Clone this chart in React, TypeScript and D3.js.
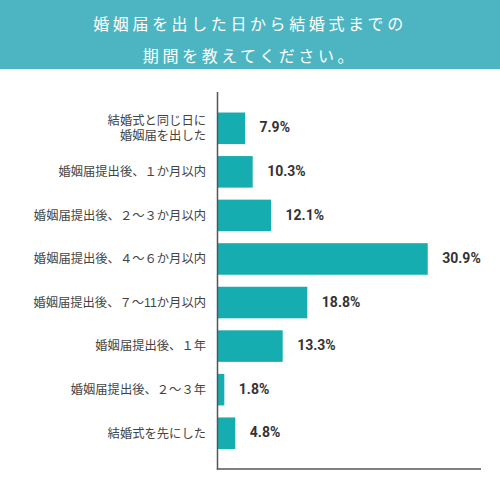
import React from "react";
import * as d3 from "d3";

// Category labels (lines of each label)
const categories: string[][] = [
  ["結婚式と同じ日に", "婚姻届を出した"],
  ["婚姻届提出後、１か月以内"],
  ["婚姻届提出後、２～３か月以内"],
  ["婚姻届提出後、４～６か月以内"],
  ["婚姻届提出後、７～11か月以内"],
  ["婚姻届提出後、１年"],
  ["婚姻届提出後、２～３年"],
  ["結婚式を先にした"],
];

// Printed percentages
const percentLabels: number[] = [7.9, 10.3, 12.1, 30.9, 18.8, 13.3, 1.8, 4.8];

// Bar lengths as drawn in the reference (in the same % units; the original
// graphic is not drawn proportionally to its printed values)
const drawnLengths: number[] = [3.98, 5.11, 7.81, 30.9, 13.16, 9.53, 0.93, 2.55];

const titleLines: string[] = ["婚姻届を出した日から結婚式までの", "期間を教えてください。"];

const W = 500;
const H = 500;

export default function App() {
  const x = d3.scaleLinear().domain([0, 38.75]).range([218, 481]);
  const ids = categories.map((_, i) => String(i));
  const y = d3
    .scaleBand<string>()
    .domain(ids)
    .range([106.5, 455])
    .paddingInner(0.276)
    .paddingOuter(0.138);

  const jp = "'Noto Sans CJK JP', 'Noto Sans', sans-serif";
  const jpCompact = "'Liberation Sans', 'Noto Sans CJK JP', sans-serif";

  return (
    <svg
      width={W}
      height={H}
      viewBox={`0 0 ${W} ${H}`}
      style={{ position: "absolute", left: 0, top: 0, background: "#fff" }}
    >
      <rect x={0} y={0} width={W} height={69} fill="#4db5c2" />
      <text
        textAnchor="middle"
        fill="#fff"
        fontFamily={jp}
        fontSize={16}
        letterSpacing={3.6}
      >
        {titleLines.map((t, i) => (
          <tspan key={t} x={W / 2} y={26 + i * 32} dominantBaseline="middle">
            {t}
          </tspan>
        ))}
      </text>

      {categories.map((c, i) => {
        const yy = y(ids[i])!;
        const bw = y.bandwidth();
        const cy = yy + bw / 2;
        return (
          <g key={i}>
            <rect
              x={x(0)}
              y={yy}
              width={x(drawnLengths[i]) - x(0)}
              height={bw}
              fill="#15adb0"
            />
            {c.map((line, j) => (
              <text
                key={j}
                x={206}
                y={cy + (j - (c.length - 1) / 2) * 15 + 4.3}
                textAnchor="end"
                fill="#444"
                fontFamily={jpCompact}
                fontSize={12.3}
              >
                {line}
              </text>
            ))}
            <text
              x={x(drawnLengths[i]) + 14.5}
              y={cy + 0.5}
              dominantBaseline="middle"
              fill="#333"
              fontFamily="Roboto, 'Open Sans', sans-serif"
              fontWeight={700}
              fontSize={14}
            >
              {d3.format(".1f")(percentLabels[i])}%
            </text>
          </g>
        );
      })}

      <line x1={x(0) - 0.5} x2={x(0) - 0.5} y1={92} y2={469.5} stroke="#555" strokeWidth={1.5} />
      <line x1={x(0) - 1.2} x2={x.range()[1]} y1={469} y2={469} stroke="#555" strokeWidth={1.5} />
    </svg>
  );
}
